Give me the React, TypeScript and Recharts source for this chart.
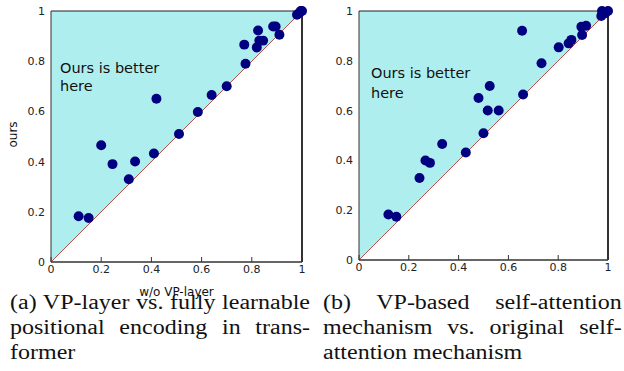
import React from 'react';
import { ComposedChart, Area, Line, Scatter, XAxis, YAxis, ZAxis, ReferenceLine } from 'recharts';

const ticks = [0, 0.2, 0.4, 0.6, 0.8, 1];

// (a) w/o VP-layer vs ours
const leftX = [0.11, 0.15, 0.2, 0.245, 0.31, 0.335, 0.41, 0.42, 0.51, 0.585, 0.64, 0.7, 0.77, 0.775, 0.825, 0.82, 0.83, 0.845, 0.885, 0.895, 0.91, 0.98, 0.99, 0.995, 1.0];
const leftY = [0.182, 0.175, 0.465, 0.39, 0.33, 0.4, 0.432, 0.65, 0.51, 0.598, 0.665, 0.7, 0.866, 0.79, 0.922, 0.855, 0.882, 0.882, 0.938, 0.938, 0.905, 0.985, 0.993, 1.0, 1.0];

// (b) original self-attention vs ours
const rightX = [0.118, 0.15, 0.243, 0.267, 0.285, 0.334, 0.429, 0.48, 0.5, 0.517, 0.525, 0.561, 0.655, 0.659, 0.733, 0.802, 0.842, 0.853, 0.896, 0.893, 0.912, 0.973, 0.976, 0.989, 1.0];
const rightY = [0.183, 0.174, 0.329, 0.4, 0.39, 0.466, 0.432, 0.651, 0.509, 0.6, 0.699, 0.6, 0.921, 0.665, 0.79, 0.854, 0.87, 0.884, 0.904, 0.937, 0.941, 0.98, 1.0, 0.991, 1.0];

// triangle above the diagonal + the diagonal itself
const region = [
  { x: 0, band: [0, 1], diag: 0 },
  { x: 1, band: [1, 1], diag: 1 },
];

const tickFont = { fontSize: 11, fill: '#222', fontFamily: 'DejaVu Sans' };
const serif = '"Liberation Serif", serif';

function Panel({ xs, ys, width, height, leftW, rightM, xLabel, yLabel }: any) {
  const pts = xs.map((x: number, i: number) => ({ x, y: ys[i] }));
  return (
    <ComposedChart width={width} height={height} data={region} margin={{ top: 11, right: rightM, left: 0, bottom: 0 }}>
      <Area dataKey="band" type="linear" fill="#afeeee" fillOpacity={1} stroke="none" isAnimationActive={false} />
      <Line dataKey="diag" type="linear" stroke="#b5524e" strokeWidth={1} dot={false} isAnimationActive={false} />
      <Scatter data={pts} dataKey="y" fill="#000080" isAnimationActive={false} />
      <ZAxis range={[78, 78]} />
      <ReferenceLine y={1} stroke="#222" strokeWidth={1} />
      <XAxis
        type="number"
        dataKey="x"
        domain={[0, 1]}
        ticks={ticks}
        interval={0}
        tickSize={-5}
        tickMargin={8}
        height={xLabel ? 38 : 18}
        axisLine={{ stroke: '#333', strokeWidth: 1.5 }}
        tickLine={{ stroke: '#333' }}
        tick={tickFont}
        label={xLabel ? { value: xLabel, position: 'insideBottom', offset: 4, fontSize: 12, fill: '#111', fontFamily: 'DejaVu Sans' } : undefined}
      />
      <YAxis
        type="number"
        domain={[0, 1]}
        ticks={ticks}
        interval={0}
        width={leftW}
        tickSize={-5}
        tickMargin={11}
        axisLine={{ stroke: '#333', strokeWidth: 1 }}
        tickLine={false}
        tick={tickFont}
        label={
          yLabel
            ? {
                content: ({ viewBox }: any) => {
                  const cx = viewBox.x + 13;
                  const cy = viewBox.y + viewBox.height / 2 - 2;
                  return (
                    <text x={cx} y={cy} transform={`rotate(-90 ${cx} ${cy})`} textAnchor="middle" dominantBaseline="central" fontSize={12} fill="#111" fontFamily="DejaVu Sans">
                      {yLabel}
                    </text>
                  );
                },
              }
            : undefined
        }
      />
      <YAxis
        yAxisId="r"
        orientation="right"
        type="number"
        domain={[0, 1]}
        ticks={ticks}
        interval={0}
        width={1}
        tickSize={-5}
        tick={false}
        axisLine={{ stroke: '#333', strokeWidth: 2 }}
        tickLine={{ stroke: '#333' }}
      />
    </ComposedChart>
  );
}

// caption lines are justified like the paper's two-column subcaptions
function Caption({ lines, left, baseW }: { lines: string[]; left: number; baseW: number }) {
  return (
    <div style={{ position: 'absolute', left, top: 290, width: baseW, transform: 'scaleX(1.2)', transformOrigin: 'left top', fontFamily: serif, fontSize: 20, lineHeight: '25px', color: '#111' }}>
      {lines.map((t, i) => (
        <div key={i} style={{ textAlign: 'justify', textAlignLast: i < lines.length - 1 ? 'justify' : 'left' }}>
          {t}
        </div>
      ))}
    </div>
  );
}

const note = { position: 'absolute' as const, fontFamily: 'DejaVu Sans', fontSize: 14.5, color: '#111' };

export default function App() {
  return (
    <div style={{ position: 'absolute', left: 0, top: 0, width: 624, height: 371, background: '#fff', overflow: 'hidden' }}>
      <div style={{ position: 'absolute', left: 0, top: 0 }}>
        <Panel xs={leftX} ys={leftY} width={312} height={300} leftW={51} rightM={9} xLabel="w/o VP-layer" yLabel="ours" />
      </div>
      <div style={{ position: 'absolute', left: 312, top: 0 }}>
        <Panel xs={rightX} ys={rightY} width={312} height={278} leftW={47} rightM={15} />
      </div>
      <div style={{ ...note, left: 60, top: 60, lineHeight: '17.7px' }}>
        Ours is better
        <br />
        here
      </div>
      <div style={{ ...note, left: 371, top: 63, lineHeight: '20.4px' }}>
        Ours is better
        <br />
        here
      </div>
      <Caption left={10} baseW={250} lines={['(a) VP-layer vs. fully learnable', 'positional encoding in trans-', 'former']} />
      <Caption left={323} baseW={249} lines={['(b) VP-based self-attention', 'mechanism vs. original self-', 'attention mechanism']} />
    </div>
  );
}
